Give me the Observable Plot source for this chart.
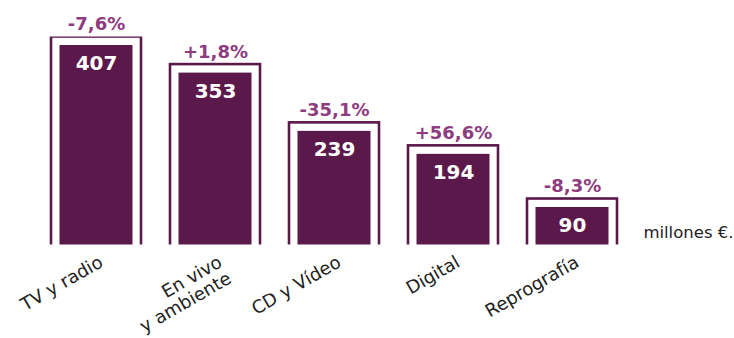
<!DOCTYPE html>
<html>
<head>
<meta charset="utf-8">
<script src="https://cdn.jsdelivr.net/npm/d3@7"></script>
<script src="https://cdn.jsdelivr.net/npm/@observablehq/plot@0.6"></script>
<style>
  html, body { margin: 0; padding: 0; background: #fff; }
  #chart svg { display: block; }
</style>
</head>
<body>
<div id="chart"></div>
<script>
const categories = ["TV y radio", "En vivo\ny ambiente", "CD y Vídeo", "Digital", "Reprografía"];
const values = [407, 353, 239, 194, 90];
const changes = ["-7,6%", "+1,8%", "-35,1%", "+56,6%", "-8,3%"];
const unitLabel = "millones €.";

const data = categories.map((c, i) => ({cat: c, value: values[i], change: changes[i]}));

const dark = "#5b184a";
const light = "#8e3b80";
const font = "'DejaVu Sans', sans-serif";

const chart = Plot.plot({
  width: 734,
  height: 338,
  marginTop: 36.5,
  marginBottom: 93.5,
  marginLeft: 0,
  marginRight: 0,
  style: {fontFamily: font, background: "#fff"},
  x: {domain: categories, range: [20, 647], padding: 0.247, axis: null},
  y: {domain: [0, 407], axis: null},
  marks: [
    Plot.rect(data, {
      x: "cat", y1: () => -30, y2: "value",
      fill: "white", stroke: dark, strokeWidth: 2.6, clip: "frame"
    }),
    Plot.rect(data, {
      x: "cat", y1: 0, y2: "value",
      fill: dark, insetTop: 8.5, insetLeft: 8.5, insetRight: 8.5
    }),
    Plot.text(data, {
      x: "cat", y: "value", text: d => String(d.value),
      fill: "white", fontWeight: "bold", fontSize: 20,
      lineAnchor: "top", dy: 19
    }),
    Plot.text(data, {
      x: "cat", y: "value", text: "change",
      fill: light, fontWeight: "bold", fontSize: 18,
      lineAnchor: "bottom", dy: -7
    }),
    Plot.text(data, {
      x: "cat", y: 0, text: "cat",
      fill: "#222", fontSize: 18, rotate: -30,
      textAnchor: "end", lineAnchor: "top", dx: 1, dy: 9, lineHeight: 1.05
    }),
    Plot.text([unitLabel], {
      frameAnchor: "bottom-right", text: d => d,
      fill: "#222", fontSize: 16.5, textAnchor: "end", dx: -1, dy: -7
    })
  ]
});
document.getElementById("chart").appendChild(chart);
</script>
</body>
</html>
